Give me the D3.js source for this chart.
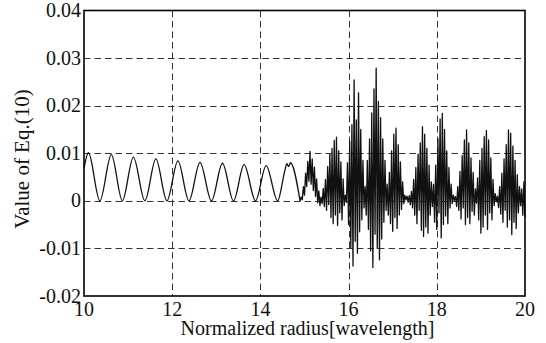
<!DOCTYPE html>
<html>
<head>
<meta charset="utf-8">
<script src="https://cdn.jsdelivr.net/npm/d3@7"></script>
<style>
  body { margin: 0; background: #fff; }
</style>
</head>
<body>
<div id="chart"></div>
<script>

// axis ticks
var xTicks = [10, 12, 14, 16, 18, 20];
var yTicks = [-0.02, -0.01, 0, 0.01, 0.02, 0.03, 0.04];
var yTickLabels = ["-0.02", "-0.01", "0", "0.01", "0.02", "0.03", "0.04"];

// smooth part (10 - 14.9): peaks and troughs
var smoothX = [10.0, 10.10, 10.36, 10.62, 10.87, 11.12, 11.38, 11.63, 11.88, 12.13, 12.38,
               12.63, 12.89, 13.14, 13.39, 13.63, 13.89, 14.13, 14.39, 14.55, 14.60, 14.64, 14.68, 14.9];
var smoothY = [0.0068, 0.0101, 0, 0.0097, 0, 0.0092, 0, 0.0088, 0, 0.0084, 0,
               0.0081, 0, 0.0079, 0, 0.0076, 0, 0.0074, 0, 0.0062, 0.0078, 0.0072, 0.0080, 0];

// dense part (14.9 - 20), one sample every 0.025
var denseStart = 14.9;
var denseStep = 0.025;
var denseY = [
  0.0000, 0.0008, 0.0002, 0.0030, 0.0012, 0.0058, 0.0030, 0.0083, 0.0041, 0.0104,
  0.0035, 0.0088, 0.0022, 0.0071, 0.0009, 0.0046, -0.0004, 0.0021, -0.0010, 0.0008,
  -0.0006, 0.0026, -0.0012, 0.0045, -0.0020, 0.0072, -0.0008, 0.0098, -0.0035, 0.0110,
  -0.0048, 0.0127, -0.0030, 0.0134, -0.0052, 0.0105, -0.0025, 0.0082, -0.0040, 0.0046,
  -0.0010, 0.0012, -0.0003, 0.0080, -0.0050, 0.0125, -0.0098, 0.0160, -0.0137, 0.0254,
  -0.0085, 0.0170, -0.0110, 0.0227, -0.0065, 0.0150, -0.0040, 0.0085, -0.0015, 0.0030,
  -0.0030, 0.0085, -0.0060, 0.0130, -0.0105, 0.0185, -0.0140, 0.0235, -0.0070, 0.0279,
  -0.0100, 0.0209, -0.0124, 0.0175, -0.0080, 0.0130, -0.0045, 0.0085, -0.0020, 0.0035,
  -0.0030, 0.0060, -0.0048, 0.0105, -0.0064, 0.0140, -0.0035, 0.0153, -0.0058, 0.0118,
  -0.0030, 0.0082, -0.0018, 0.0040, -0.0006, 0.0012, 0.0002, 0.0010, -0.0003, 0.0011,
  -0.0008, 0.0020, -0.0015, 0.0045, -0.0030, 0.0070, -0.0048, 0.0098, -0.0020, 0.0122,
  -0.0062, 0.0156, -0.0075, 0.0140, -0.0055, 0.0110, -0.0068, 0.0075, -0.0030, 0.0040,
  -0.0012, 0.0035, -0.0045, 0.0075, -0.0060, 0.0130, -0.0025, 0.0172, -0.0078, 0.0184,
  -0.0050, 0.0150, -0.0032, 0.0105, -0.0048, 0.0070, -0.0015, 0.0035, -0.0006, 0.0012,
  0.0001, 0.0009, -0.0012, 0.0030, -0.0020, 0.0062, -0.0038, 0.0095, -0.0015, 0.0128,
  -0.0050, 0.0149, -0.0035, 0.0122, -0.0048, 0.0090, -0.0022, 0.0060, -0.0030, 0.0025,
  -0.0005, 0.0048, -0.0040, 0.0085, -0.0068, 0.0110, -0.0055, 0.0135, -0.0030, 0.0148,
  -0.0060, 0.0128, -0.0025, 0.0090, -0.0040, 0.0045, -0.0010, 0.0015, -0.0002, 0.0010,
  -0.0014, 0.0030, -0.0028, 0.0058, -0.0045, 0.0088, -0.0020, 0.0118, -0.0055, 0.0149,
  -0.0040, 0.0142, -0.0071, 0.0115, -0.0045, 0.0085, -0.0058, 0.0055, -0.0025, 0.0030,
  -0.0010, 0.0025, -0.0030, 0.0040, -0.0035
];

var width = 546, height = 343;
var margin = {top: 10.5, right: 21, bottom: 47, left: 84};
var font = "'Liberation Serif'";

var svg = d3.select("#chart").append("svg")
    .attr("width", width)
    .attr("height", height);

var x = d3.scaleLinear().domain([10, 20]).range([margin.left, width - margin.right]);
var y = d3.scaleLinear().domain([-0.02, 0.04]).range([height - margin.bottom, margin.top]);

// grid lines (dashed, interior only)
svg.append("g")
    .selectAll("line")
    .data(xTicks.slice(1, -1))
    .enter().append("line")
    .attr("x1", function(d){ return Math.round(x(d)) + 0.5; })
    .attr("x2", function(d){ return Math.round(x(d)) + 0.5; })
    .attr("y1", y(0.04))
    .attr("y2", y(-0.02))
    .attr("stroke", "#333")
    .attr("stroke-dasharray", "6.5,4");

svg.append("g")
    .selectAll("line")
    .data(yTicks.slice(1, -1))
    .enter().append("line")
    .attr("x1", x(10))
    .attr("x2", x(20))
    .attr("y1", function(d){ return Math.round(y(d)) + 0.5; })
    .attr("y2", function(d){ return Math.round(y(d)) + 0.5; })
    .attr("stroke", "#333")
    .attr("stroke-dasharray", "6.5,4");

// the signal
var smoothLine = d3.line()
    .x(function(d){ return x(d[0]); })
    .y(function(d){ return y(d[1]); })
    .curve(d3.curveMonotoneX);

svg.append("path")
    .datum(smoothX.map(function(v, i){ return [v, smoothY[i]]; }))
    .attr("d", smoothLine)
    .attr("fill", "none")
    .attr("stroke", "#111")
    .attr("stroke-width", 1.3);

var denseLine = d3.line()
    .x(function(d){ return x(d[0]); })
    .y(function(d){ return y(d[1]); });

svg.append("path")
    .datum(denseY.map(function(v, i){ return [denseStart + i * denseStep, v]; }))
    .attr("d", denseLine)
    .attr("fill", "none")
    .attr("stroke", "#111")
    .attr("stroke-width", 1.3)
    .attr("stroke-linejoin", "round");

// frame
svg.append("rect")
    .attr("x", x(10))
    .attr("y", y(0.04))
    .attr("width", x(20) - x(10))
    .attr("height", y(-0.02) - y(0.04))
    .attr("fill", "none")
    .attr("stroke", "#000")
    .attr("stroke-width", 1.6);

// tick labels
svg.append("g")
    .selectAll("text")
    .data(xTicks)
    .enter().append("text")
    .attr("x", function(d){ return x(d); })
    .attr("y", y(-0.02) + 20)
    .attr("text-anchor", "middle")
    .attr("font-family", font)
    .attr("font-size", 20)
    .attr("fill", "#111")
    .text(function(d){ return d; });

svg.append("g")
    .selectAll("text")
    .data(yTicks)
    .enter().append("text")
    .attr("x", x(10) - 3)
    .attr("y", function(d){ return y(d) + 6.5; })
    .attr("text-anchor", "end")
    .attr("font-family", font)
    .attr("font-size", 20)
    .attr("fill", "#111")
    .text(function(d, i){ return yTickLabels[i]; });

// axis titles
svg.append("text")
    .attr("x", (x(10) + x(20)) / 2 + 3)
    .attr("y", 335)
    .attr("text-anchor", "middle")
    .attr("font-family", font)
    .attr("font-size", 20)
    .attr("fill", "#111")
    .text("Normalized radius[wavelength]");

svg.append("text")
    .attr("transform", "translate(28.5,159) rotate(-90)")
    .attr("text-anchor", "middle")
    .attr("font-family", font)
    .attr("font-size", 21)
    .attr("fill", "#111")
    .text("Value of Eq.(10)");

</script>
</body>
</html>
